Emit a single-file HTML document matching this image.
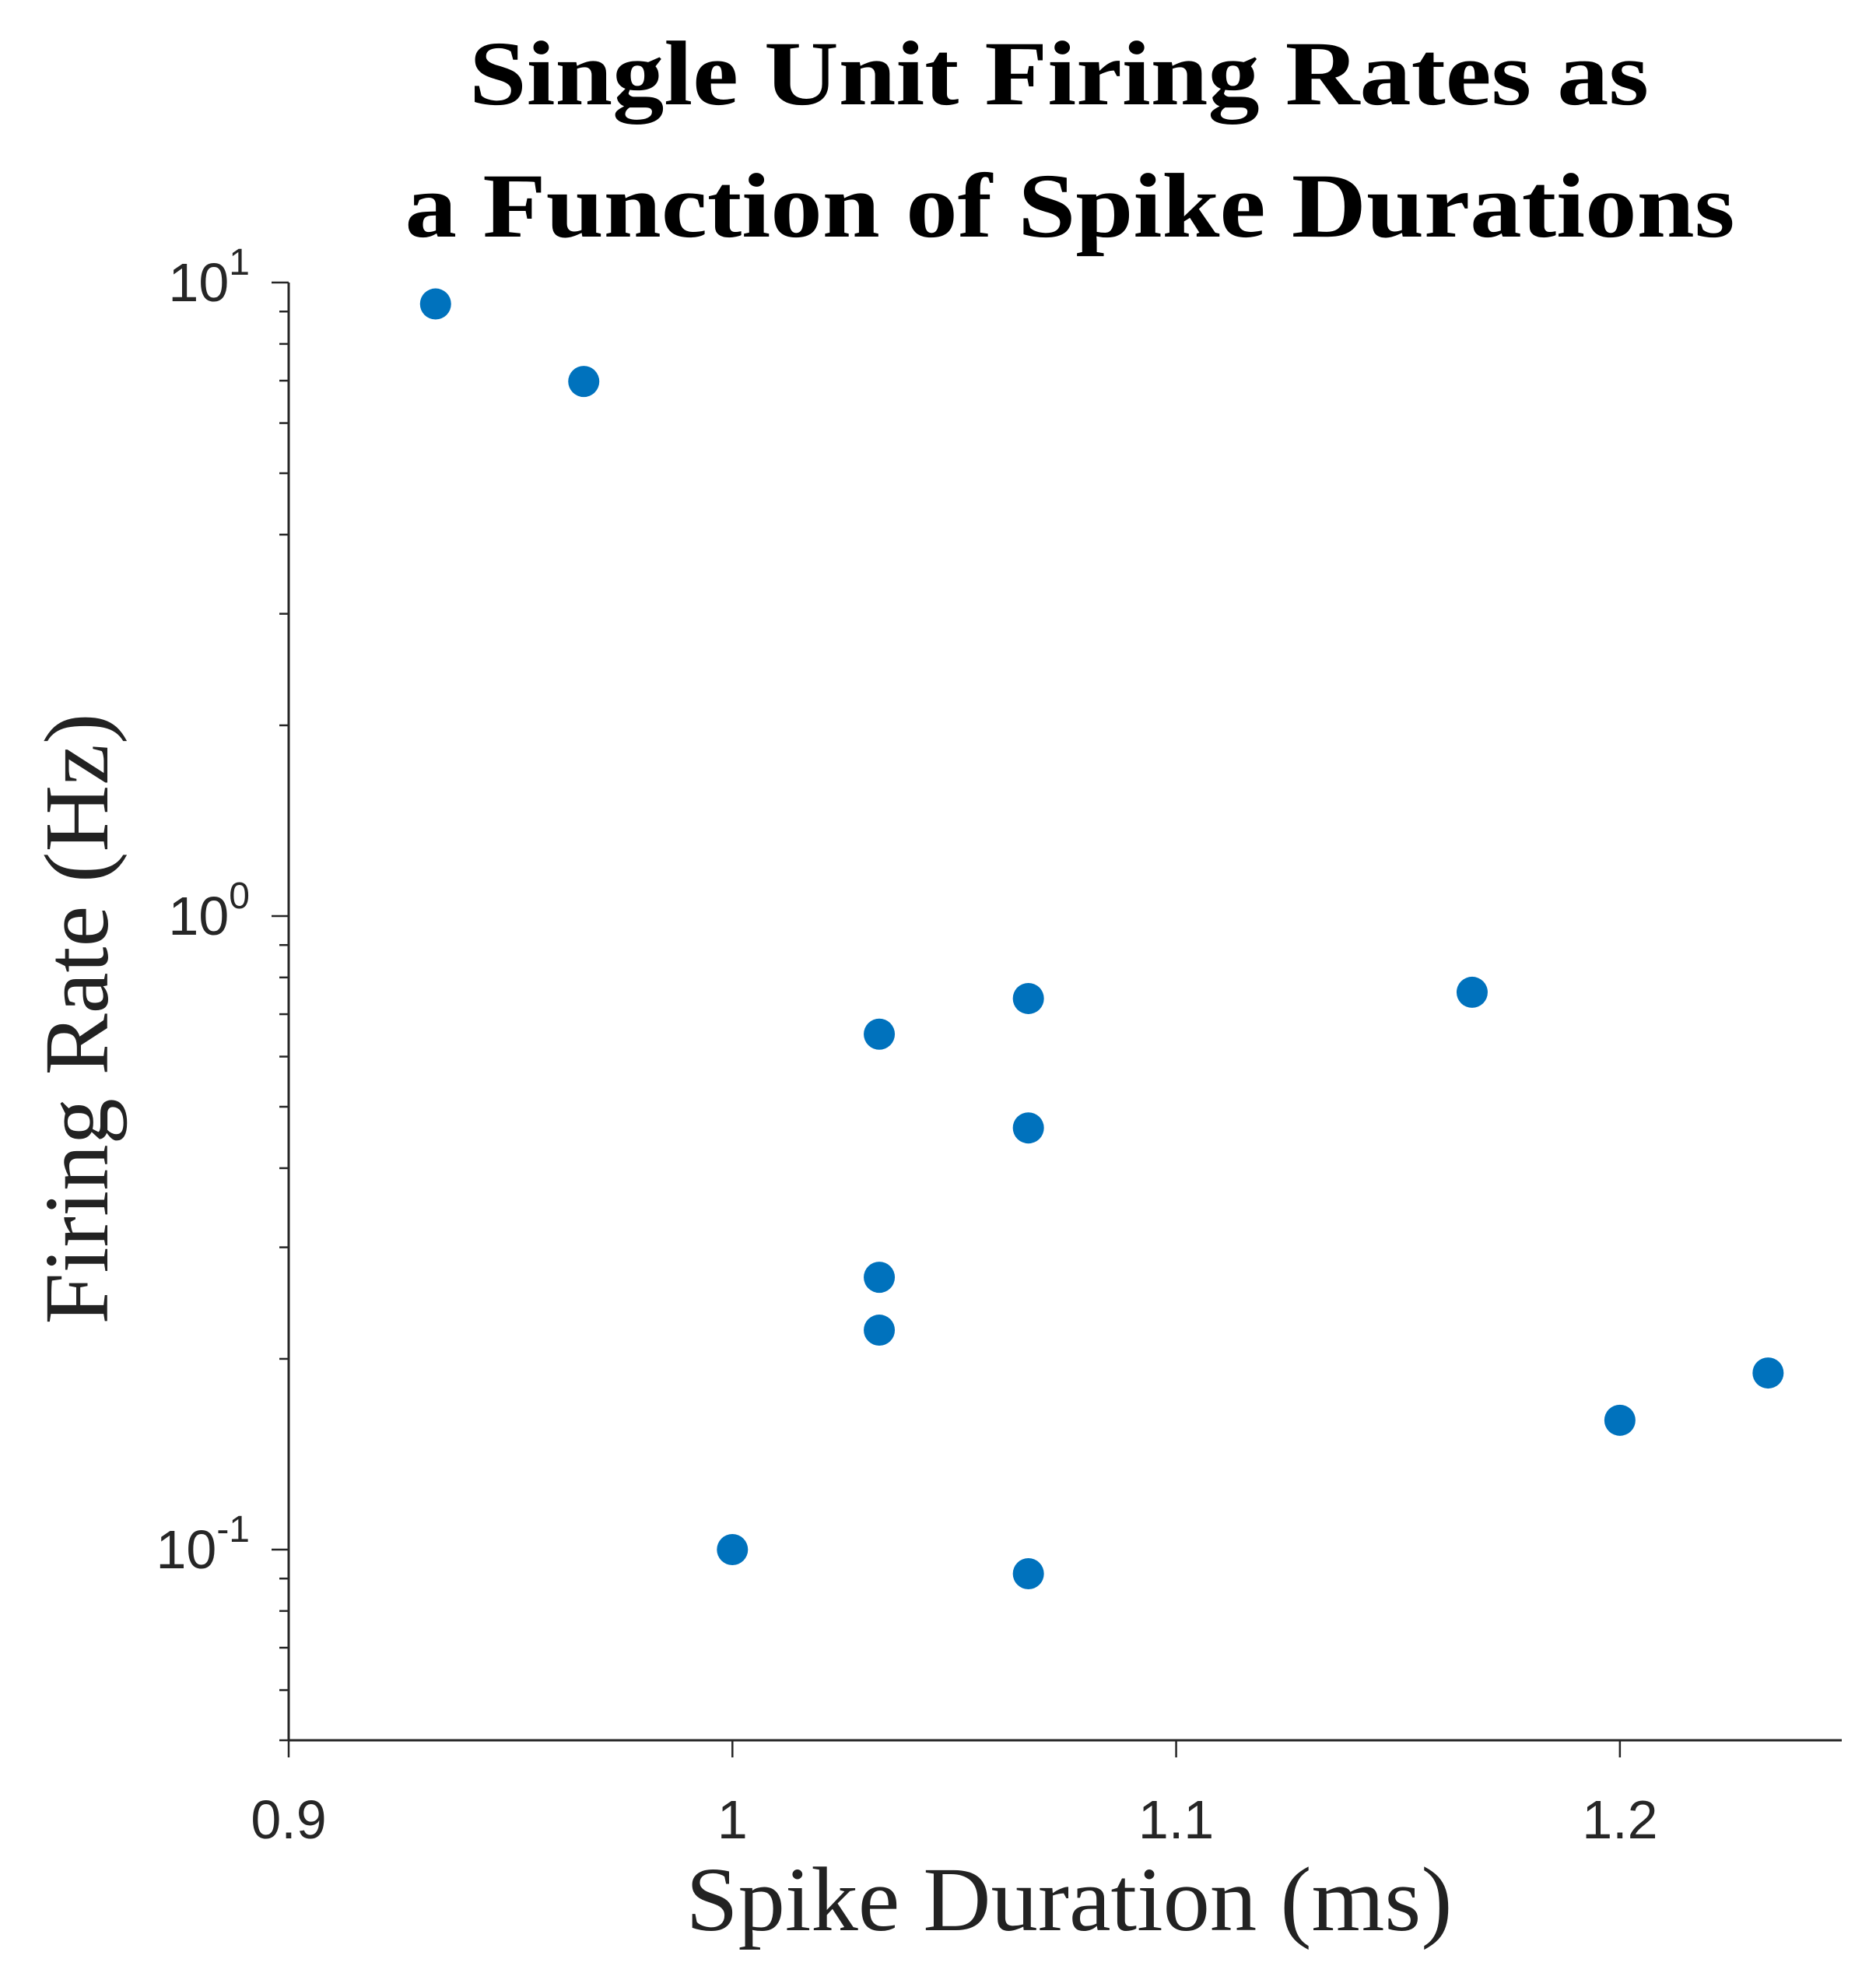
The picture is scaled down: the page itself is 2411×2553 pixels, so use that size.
<!DOCTYPE html>
<html><head><meta charset="utf-8"><style>
html,body{margin:0;padding:0;background:#fff;}
svg{display:block;}
</style></head><body>
<svg id="chart" width="2411" height="2553" viewBox="0 0 2411 2553" xmlns="http://www.w3.org/2000/svg">
<g font-family="'Liberation Serif', serif" font-weight="bold" font-size="118" text-anchor="middle" fill="#000">
<text x="1361" y="134" textLength="1516" lengthAdjust="spacingAndGlyphs">Single Unit Firing Rates as</text>
<text x="1375" y="304" textLength="1709" lengthAdjust="spacingAndGlyphs">a Function of Spike Durations</text>
</g>
<text font-family="'Liberation Serif', serif" font-size="118" fill="#222" text-anchor="middle" transform="translate(138,1309) rotate(-90)" textLength="785" lengthAdjust="spacingAndGlyphs">Firing Rate (Hz)</text>
<text font-family="'Liberation Serif', serif" font-size="118" fill="#222" text-anchor="middle" x="1374" y="2480" textLength="985" lengthAdjust="spacingAndGlyphs">Spike Duration (ms)</text>
<g id="axes"></g>
<g id="points"></g>
</svg>
<script>
const xTicks = [0.9, 1.0, 1.1, 1.2];
const xTickLabels = ["0.9", "1", "1.1", "1.2"];
const yTicks = [10, 1, 0.1];
const yTickExps = ["1", "0", "-1"];
const durations = [0.9331, 0.9665, 1.0, 1.0331, 1.0331, 1.0331, 1.0667, 1.0667, 1.0667, 1.1667, 1.2, 1.2334];
const rates = [9.25, 6.98, 0.1, 0.651, 0.269, 0.222, 0.741, 0.463, 0.0916, 0.758, 0.160, 0.190];

const L=371,R=2367,T=363,B=2236,xMin=0.9,xMax=1.25,yMin=0.05,yMax=10;
const NS='http://www.w3.org/2000/svg';
function xS(v){return L+(v-xMin)/(xMax-xMin)*(R-L);}
function yS(v){return B-(Math.log10(v)-Math.log10(yMin))/(Math.log10(yMax)-Math.log10(yMin))*(B-T);}
function mk(tag,attrs,parent){const e=document.createElementNS(NS,tag);for(const k in attrs)e.setAttribute(k,attrs[k]);parent.appendChild(e);return e;}
const axes=document.getElementById('axes');
const pts=document.getElementById('points');
let e;
e=mk('line',{x1:L,y1:T,x2:L,y2:B,stroke:'#262626','stroke-width':3},axes);


e=mk('line',{x1:L,y1:B,x2:R,y2:B,stroke:'#262626','stroke-width':3},axes);


xTicks.forEach((v,i)=>{
  const x=xS(v);
  let t=mk('line',{x1:x,y1:B,x2:x,y2:B+22,stroke:'#262626','stroke-width':2.5},axes);
  
  
  let lb=mk('text',{x:x,y:2362,'font-family':"'Liberation Sans', sans-serif",'font-size':70,'text-anchor':'middle',fill:'#262626'},axes);
  lb.textContent=xTickLabels[i];
  
  
});
for(let d=-2;d<=0;d++){
  for(let m=2;m<=9;m++){
    const v=m*Math.pow(10,d);
    if(v<yMin||v>yMax)continue;
    const y=yS(v);
    let t=mk('line',{x1:L-12,y1:y,x2:L,y2:y,stroke:'#262626','stroke-width':2.5},axes);
    
    
  }
}
yTicks.forEach((v,i)=>{
  const y=yS(v);
  let t=mk('line',{x1:L-22,y1:y,x2:L,y2:y,stroke:'#262626','stroke-width':2.5},axes);
  
  
  let lb=mk('text',{x:L-50,y:y+24,'font-family':"'Liberation Sans', sans-serif",'font-size':70,'text-anchor':'end',fill:'#262626'},axes);
  
  
  const base=document.createElementNS(NS,'tspan');base.textContent='10';lb.appendChild(base);
  const sup=document.createElementNS(NS,'tspan');sup.setAttribute('dy','-34');sup.setAttribute('font-size','48');sup.textContent=yTickExps[i];lb.appendChild(sup);
});
durations.forEach((d,i)=>{
  let c=mk('circle',{cx:xS(d),cy:yS(rates[i]),r:20,fill:'#0072BD'},pts);
  
  
});
</script>
</body></html>
